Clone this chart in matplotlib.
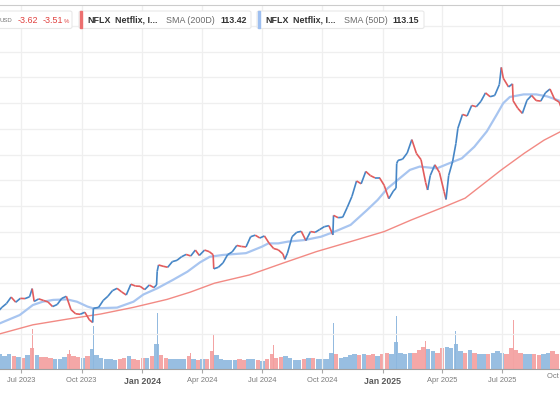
import matplotlib
matplotlib.use("Agg")
import matplotlib.pyplot as plt
import matplotlib.dates as mdates
from matplotlib.collections import LineCollection
from matplotlib.patches import FancyBboxPatch
import numpy as np
import pandas as pd

plt.rcParams['font.family'] = ['Liberation Sans', 'DejaVu Sans']

# --- data (NFLX, split-adjusted) ---
price_dates = [
    "2023-05-26", "2023-06-02", "2023-06-09", "2023-06-16", "2023-06-23", "2023-06-30",
    "2023-07-07", "2023-07-14", "2023-07-18", "2023-07-21", "2023-07-28",
    "2023-08-04", "2023-08-11", "2023-08-18", "2023-08-25", "2023-09-01",
    "2023-09-08", "2023-09-15", "2023-09-22", "2023-09-29",
    "2023-10-06", "2023-10-13", "2023-10-18", "2023-10-19", "2023-10-27",
    "2023-11-03", "2023-11-10", "2023-11-17", "2023-11-24", "2023-12-01",
    "2023-12-08", "2023-12-15", "2023-12-22", "2023-12-29",
    "2024-01-05", "2024-01-12", "2024-01-19", "2024-01-23", "2024-01-24", "2024-01-26",
    "2024-02-02", "2024-02-09", "2024-02-16", "2024-02-23", "2024-03-01",
    "2024-03-08", "2024-03-15", "2024-03-22", "2024-03-28",
    "2024-04-05", "2024-04-12", "2024-04-18", "2024-04-19", "2024-04-26",
    "2024-05-03", "2024-05-10", "2024-05-17", "2024-05-24", "2024-05-31",
    "2024-06-07", "2024-06-14", "2024-06-21", "2024-06-28",
    "2024-07-05", "2024-07-12", "2024-07-19", "2024-07-26",
    "2024-08-02", "2024-08-05", "2024-08-09", "2024-08-16", "2024-08-23", "2024-08-30",
    "2024-09-06", "2024-09-13", "2024-09-20", "2024-09-27",
    "2024-10-04", "2024-10-11", "2024-10-17", "2024-10-18", "2024-10-25",
    "2024-11-01", "2024-11-08", "2024-11-15", "2024-11-22", "2024-11-29",
    "2024-12-06", "2024-12-13", "2024-12-20", "2024-12-27",
    "2025-01-03", "2025-01-10", "2025-01-17", "2025-01-21", "2025-01-22", "2025-01-24",
    "2025-01-31", "2025-02-07", "2025-02-14", "2025-02-21", "2025-02-28",
    "2025-03-07", "2025-03-10", "2025-03-14", "2025-03-21", "2025-03-28",
    "2025-04-04", "2025-04-07", "2025-04-11", "2025-04-17", "2025-04-22", "2025-04-25",
    "2025-05-02", "2025-05-09", "2025-05-16", "2025-05-23", "2025-05-30",
    "2025-06-06", "2025-06-13", "2025-06-20", "2025-06-27", "2025-06-30",
    "2025-07-03", "2025-07-11", "2025-07-17", "2025-07-18", "2025-07-25",
    "2025-08-01", "2025-08-08", "2025-08-15", "2025-08-22", "2025-08-29",
    "2025-09-05", "2025-09-12", "2025-09-19", "2025-09-26", "2025-10-03",
]
price_close = [
    38.6, 40.5, 42.0, 44.5, 42.5, 44.0,
    43.9, 44.6, 47.8, 42.8, 43.8,
    43.2, 42.6, 40.8, 41.6, 44.0,
    44.8, 39.6, 38.0, 37.8,
    38.6, 35.6, 34.6, 40.1, 40.5,
    43.2, 44.8, 47.0, 47.9, 46.5,
    45.3, 49.5, 48.8, 48.7,
    47.4, 49.2, 48.2, 49.2, 54.5, 57.0,
    56.5, 56.1, 58.3, 58.8, 60.2,
    61.1, 60.5, 62.8, 60.7,
    62.8, 62.2, 61.0, 55.5, 56.1,
    57.8, 61.0, 62.1, 64.6, 64.2,
    64.0, 68.0, 68.6, 67.5,
    68.3, 65.5, 63.4, 62.9,
    61.3, 59.2, 61.6, 68.0, 69.7, 70.1,
    66.5, 70.0, 69.7, 70.8,
    71.9, 72.3, 68.7, 76.3, 75.4,
    75.6, 79.5, 83.7, 89.7, 88.6,
    93.4, 91.8, 90.9, 90.9,
    88.0, 82.8, 85.8, 86.9, 96.5, 97.7,
    98.2, 100.6, 105.8, 100.4, 98.0,
    89.1, 86.2, 91.8, 96.0, 93.0,
    85.6, 82.5, 91.8, 97.3, 104.3, 110.2,
    115.6, 115.0, 119.1, 118.6, 120.7,
    124.0, 122.5, 123.0, 127.2, 133.9,
    129.7, 126.3, 127.5, 120.9, 118.0,
    116.0, 121.1, 123.0, 121.0, 120.8,
    124.0, 125.5, 121.5, 120.4, 115.3,
]

sma50_dates = [
    "2023-05-30", "2023-06-29", "2023-07-19", "2023-08-03", "2023-08-19", "2023-09-09",
    "2023-09-24", "2023-10-10", "2023-10-19", "2023-11-24", "2023-12-19", "2024-01-03",
    "2024-01-24", "2024-02-17", "2024-03-10", "2024-03-29", "2024-04-13", "2024-05-03",
    "2024-06-07", "2024-07-01", "2024-07-11", "2024-07-26", "2024-08-10", "2024-09-04",
    "2024-09-29", "2024-10-20", "2024-11-13", "2024-12-08", "2024-12-24", "2025-01-08",
    "2025-02-11", "2025-02-26", "2025-03-24", "2025-04-12", "2025-05-01", "2025-05-20",
    "2025-06-08", "2025-06-23", "2025-07-03", "2025-07-13", "2025-08-03", "2025-08-22",
    "2025-09-08", "2025-09-28",
]
sma50 = [
    34.3, 37.5, 41.4, 42.7, 43.4, 43.6,
    42.7, 40.8, 40.1, 40.4, 42.7, 45.5,
    47.9, 51.2, 54.4, 58.0, 60.2, 60.9,
    61.6, 64.1, 65.4, 65.4, 66.1, 66.7,
    68.0, 70.0, 72.6, 78.4, 82.3, 86.8,
    94.0, 95.3, 94.6, 96.6, 98.5, 103.0,
    109.0, 115.5, 120.0, 122.4, 123.4, 123.4,
    122.6, 120.8,
]

sma200_dates = [
    "2023-05-30", "2023-07-19", "2023-09-09", "2023-10-30", "2023-12-19", "2024-02-08",
    "2024-03-14", "2024-04-20", "2024-06-12", "2024-08-02", "2024-09-22", "2024-11-13",
    "2025-01-03", "2025-02-13", "2025-04-05", "2025-05-06", "2025-06-30", "2025-08-04",
    "2025-09-03", "2025-09-28",
]
sma200 = [
    30.2, 33.7, 35.9, 37.9, 40.5, 43.6,
    46.4, 49.9, 53.1, 57.7, 62.2, 66.1,
    70.0, 74.5, 79.7, 83.0, 94.0, 100.5,
    105.6, 108.9,
]

# weekly volume (M shares), weeks ending Friday
vol_weekly = [
    56, 62, 52, 62, 52, 48, 44, 56, 84, 56,
    48, 48, 46, 42, 42, 48, 62, 52, 48, 46,
    52, 80, 56, 46, 42, 42, 38, 42, 46, 52,
    42, 38, 46, 46, 52, 100, 56, 46, 42, 42,
    42, 42, 52, 42, 38, 42, 42, 72, 56, 42,
    38, 38, 38, 42, 38, 42, 42, 38, 34, 42,
    62, 46, 48, 52, 46, 38, 38, 42, 46, 46,
    42, 42, 42, 66, 62, 46, 48, 56, 62, 56,
    62, 56, 62, 52, 62, 66, 62, 110, 66, 62,
    66, 66, 76, 90, 80, 72, 66, 86, 90, 86,
    100, 72, 66, 76, 66, 62, 62, 62, 66, 72,
    66, 62, 86, 76, 66, 62, 62, 62, 56, 62,
    66, 72, 62,
]
spike_dates = ["2023-07-19", "2023-09-13", "2023-10-19", "2024-01-24", "2024-03-15",
               "2024-04-19", "2024-07-19", "2024-10-18", "2025-01-22", "2025-03-07",
               "2025-04-22", "2025-05-15", "2025-07-18"]
spike_vol = [160, 76, 172, 224, 64, 140, 96, 184, 212, 112, 152, 112, 196]
spike_up = [False, False, True, True, False, False, False, True, True, False, True, False, False]

ticks = ["2023-07-01", "2023-10-01", "2024-01-01", "2024-04-01", "2024-07-01",
         "2024-10-01", "2025-01-01", "2025-04-01", "2025-07-01"]
tick_labels = ["Jul 2023", "Oct 2023", "Jan 2024", "Apr 2024", "Jul 2024",
               "Oct 2024", "Jan 2025", "Apr 2025", "Jul 2025"]

UP = "#4686c6"
DOWN = "#e25c5c"
VUP = "#8db7de"
VDOWN = "#f39e9e"

W, H = 560, 416
fig = plt.figure(figsize=(W / 100, H / 100), dpi=100)
rect = [0, (H - 369) / H, 1, (369 - 5) / H]
axv = fig.add_axes(rect)
ax = fig.add_axes(rect, sharex=axv)
ax.patch.set_alpha(0)

x0 = mdates.date2num(pd.Timestamp("2023-05-30 02:00"))
x1 = mdates.date2num(pd.Timestamp("2025-09-27 05:00"))

# volume
weeks = pd.date_range("2023-05-26", periods=len(vol_weekly), freq="W-FRI")
px = pd.Series(price_close, index=pd.to_datetime(price_dates))
wk_close = px.reindex(weeks, method="nearest").values
wk_up = np.r_[True, wk_close[1:] >= wk_close[:-1]]
wx = mdates.date2num(weeks) - 3
axv.bar(wx, vol_weekly, width=6.6, color=[VUP if u else VDOWN for u in wk_up],
        alpha=0.9, linewidth=0)
sx = mdates.date2num(pd.to_datetime(spike_dates))
axv.bar(sx, spike_vol, width=1.4, color=[VUP if u else VDOWN for u in spike_up],
        alpha=0.95, linewidth=0)
axv.set_ylim(0, 1456)
axv.set_yticks([])
for s in axv.spines.values():
    s.set_visible(False)
axv.tick_params(axis="x", bottom=False, labelbottom=False)

# SMA lines
ax.plot(mdates.date2num(pd.to_datetime(sma200_dates)), sma200, color="#f28a84", lw=1.0, zorder=3)
ax.plot(mdates.date2num(pd.to_datetime(sma50_dates)), sma50, color="#a8c5f0", lw=1.6, zorder=3)

# price line coloured by direction
pxn = mdates.date2num(pd.to_datetime(price_dates))
pts = np.column_stack([pxn, price_close])
segs = np.stack([pts[:-1], pts[1:]], axis=1)
cols = [UP if b >= a else DOWN for a, b in zip(price_close[:-1], price_close[1:])]
ax.add_collection(LineCollection(segs, colors=cols, linewidths=1.2, zorder=4))

ax.set_xlim(x0, x1)
ax.set_ylim(16.5, 158.2)
ax.set_yticks(np.arange(30, 160, 10))
ax.tick_params(axis="y", left=False, labelleft=False)
ax.set_xticks(mdates.date2num(pd.to_datetime(ticks)))
ax.set_xticklabels(tick_labels)
ax.tick_params(axis="x", length=3, color="#aaaaaa", labelsize=5.4, labelcolor="#7a7a7a", pad=2.5)
for lab in ax.get_xticklabels():
    if lab.get_text().startswith("Jan"):
        lab.set_fontweight("bold")
        lab.set_fontsize(6.3)
        lab.set_color("#5a5a5a")
ax.grid(True, color="#efefef", lw=0.9, zorder=0)
ax.set_axisbelow(True)
for k in ["left", "right"]:
    ax.spines[k].set_visible(False)
ax.spines["bottom"].set_color("#a0a0a0")
ax.spines["top"].set_color("#cccccc")

# last label, cut off at the right edge as in the original
fig.text(562 / W, 1 - 377 / H, "Oct 2025", fontsize=5.4, color="#7a7a7a",
         ha="center", va="center")


# legend boxes at the top
def fx(x):
    return x / W


def fy(y):
    return 1 - y / H


for bx0, bx1 in [(-10, 72), (79, 251), (257, 424)]:
    fig.patches.append(FancyBboxPatch((fx(bx0), fy(28.5)), fx(bx1 - bx0), (28.5 - 11) / H,
                                      boxstyle="round,pad=0,rounding_size=0.004",
                                      transform=fig.transFigure, facecolor="white",
                                      edgecolor="#e8e8e8", lw=0.8, zorder=5))
fig.patches.append(plt.Rectangle((fx(79.5), fy(28)), fx(2), 16.5 / H, transform=fig.transFigure,
                                 color="#ec6f6f", zorder=6))
fig.patches.append(plt.Rectangle((fx(257.5), fy(28)), fx(2), 16.5 / H, transform=fig.transFigure,
                                 color="#9ebff0", zorder=6))

ty = fy(20.5)
fig.text(fx(0), ty, "USD", fontsize=4.3, color="#777777", va="center", zorder=7)
fig.text(fx(18), ty, "-3.62", fontsize=6.4, color="#e0403e", va="center", zorder=7)
fig.text(fx(43), ty, "-3.51", fontsize=6.4, color="#e0403e", va="center", zorder=7)
fig.text(fx(63.5), fy(21.5), "%", fontsize=4.3, color="#e0403e", va="center", zorder=7)
for base, sma in [(87, "SMA (200D)"), (265, "SMA (50D)")]:
    fig.text(fx(base), ty, "NFLX", fontsize=6.4, fontweight="bold", color="#333333", va="center", zorder=7)
    fig.text(fx(base + 28), ty, "Netflix, I...", fontsize=6.4, fontweight="bold", color="#333333",
             va="center", zorder=7)
    fig.text(fx(base + 79), ty, sma, fontsize=6.4, color="#6a6a6a", va="center", zorder=7)
fig.text(fx(220), ty, "113.42", fontsize=6.4, fontweight="bold", color="#333333", va="center", zorder=7)
fig.text(fx(392), ty, "113.15", fontsize=6.4, fontweight="bold", color="#333333", va="center", zorder=7)

fig.savefig("out.png", dpi=100)
